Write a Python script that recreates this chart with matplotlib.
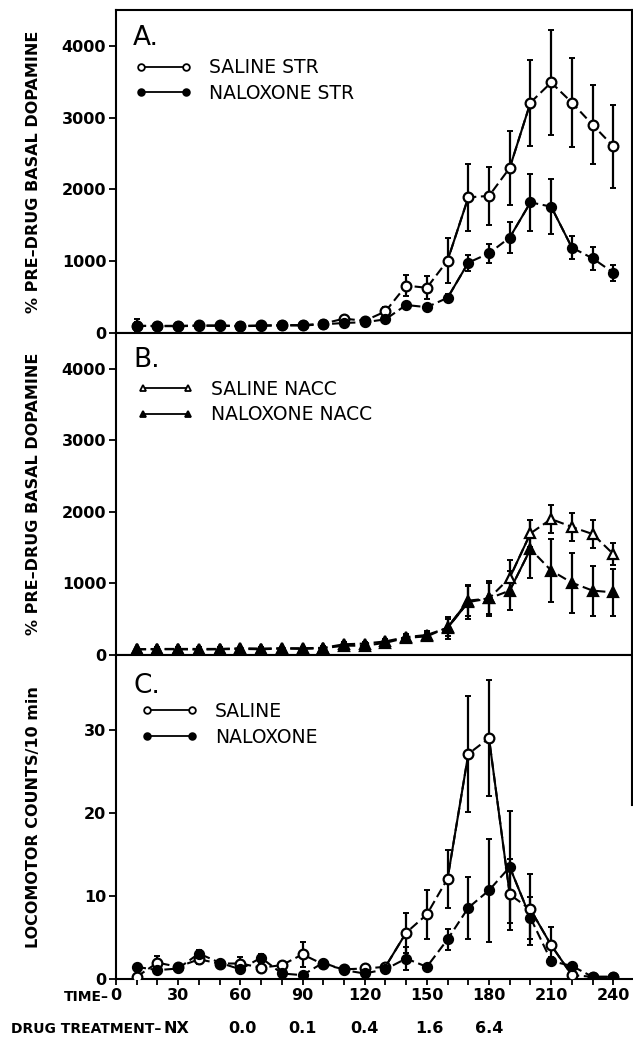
import numpy as np
import matplotlib
matplotlib.use("Agg")
import matplotlib.pyplot as plt
from matplotlib.lines import Line2D

plt.rcParams['font.family'] = ['DejaVu Sans']

# time after start, min
t = [10, 20, 30, 40, 50, 60, 70, 80, 90, 100, 110, 120,
     130, 140, 150, 160, 170, 180, 190, 200, 210, 220, 230, 240]

# A. striatum dopamine (% pre-drug basal)
sal_str = [100, 100, 100, 105, 105, 100, 105, 110, 110, 130, 200, 170,
           300, 660, 630, 1010, 1890, 1910, 2300, 3210, 3490, 3210, 2900, 2600]
sal_str_err = [90, 30, 30, 30, 30, 30, 30, 30, 30, 30, 40, 40,
               60, 150, 160, 310, 470, 400, 520, 600, 730, 620, 550, 580]
nal_str = [100, 95, 95, 100, 100, 95, 100, 105, 105, 120, 140, 150,
           190, 390, 360, 490, 980, 1110, 1330, 1820, 1760, 1190, 1040, 840]
nal_str_err = [60, 25, 25, 40, 25, 40, 25, 25, 25, 25, 25, 25,
               30, 40, 50, 50, 110, 130, 220, 400, 380, 160, 160, 110]

# B. nucleus accumbens dopamine
sal_nacc = [80, 85, 85, 85, 85, 95, 90, 95, 95, 100, 150, 160,
            190, 250, 280, 380, 740, 790, 1080, 1700, 1900, 1790, 1690, 1410]
sal_nacc_err = [20, 20, 20, 20, 20, 20, 20, 20, 20, 20, 25, 25,
                30, 40, 50, 150, 230, 220, 250, 190, 190, 200, 190, 150]
nal_nacc = [80, 80, 80, 75, 80, 85, 80, 90, 85, 95, 130, 130,
            170, 240, 260, 385, 760, 790, 900, 1480, 1180, 1010, 900, 875]
nal_nacc_err = [20, 20, 20, 20, 20, 20, 20, 20, 20, 20, 25, 25,
                30, 40, 50, 120, 220, 240, 270, 400, 445, 420, 350, 330]

# C. locomotor counts / 10 min
sal_loc = [0.3, 2.0, 1.5, 2.4, 1.9, 1.9, 1.4, 1.7, 3.0, 1.8, 1.2, 1.3,
           1.5, 5.6, 7.8, 12.1, 27.1, 29.0, 10.2, 8.4, 4.1, 0.5, 0.3, 0.3]
sal_loc_err = [0.3, 0.8, 0.3, 0.5, 0.3, 0.8, 0.4, 0.3, 1.5, 0.3, 0.3, 0.3,
               0.3, 2.4, 2.9, 3.5, 7.0, 7.0, 4.3, 4.3, 2.2, 0.3, 0.2, 0.2]
nal_loc = [1.5, 1.1, 1.3, 3.1, 2.0, 1.2, 2.6, 0.7, 0.5, 2.0, 1.1, 0.7,
           1.2, 2.5, 1.5, 4.8, 8.6, 10.7, 13.5, 7.4, 2.2, 1.6, 0.3, 0.3]
nal_loc_err = [0.3, 0.3, 0.3, 0.4, 0.3, 0.3, 0.4, 0.3, 0.3, 0.3, 0.3, 0.3,
               0.3, 1.4, 0.3, 1.3, 3.7, 6.2, 6.7, 2.5, 0.5, 0.4, 0.2, 0.2]

# segments drawn solid (start index into t), the rest dashed
solid_sal_str = [15, 18]
solid_nal_str = [15, 18, 20]
solid_sal_nacc = [15, 18]
solid_nal_nacc = [15, 18]
solid_sal_loc = [12, 15, 17, 19, 20]
solid_nal_loc = [18]

time_ticks = [0, 30, 60, 90, 120, 150, 180, 210, 240]
drug_pos = [29, 61, 90, 120, 151, 180]
drug_lab = ["NX", "0.0", "0.1", "0.4", "1.6", "6.4"]

LW = 1.5
DASH = (0, (4.5, 2.2))


def series(ax, y, err, solid, marker, filled, ms):
    x = np.array(t, dtype=float)
    y = np.array(y, dtype=float)
    ax.errorbar(x, y, yerr=err, fmt='none', ecolor='k', elinewidth=1.6,
                capsize=2.5, capthick=1.4, zorder=2)
    ax.plot(x, y, color='k', lw=LW, ls=DASH, zorder=3)
    for i in solid:
        ax.plot(x[i:i + 2], y[i:i + 2], color='k', lw=LW, ls='-', zorder=3)
    ax.plot(x, y, ls='none', marker=marker, ms=ms, mec='k', mew=1.6,
            mfc='k' if filled else 'white', zorder=4)


def style(ax, ymax, yticks):
    ax.set_xlim(0, 249)
    ax.set_ylim(0, ymax)
    ax.set_yticks(yticks)
    for s in ax.spines.values():
        s.set_linewidth(1.5)
    ax.tick_params(axis='y', direction='out', length=5, width=1.3,
                   labelsize=11.5, pad=2)
    ax.tick_params(axis='x', which='both', direction='out', length=4,
                   width=1.3, labelsize=11.5, pad=2)
    for lab in ax.get_yticklabels():
        lab.set_fontweight('bold')


def legend(ax, labels, entries, x0, y0):
    handles = []
    for marker, filled in entries:
        handles.append(Line2D([], [], color='k', lw=1.3, marker=marker,
                              ms=4.8, mew=1.3, mec='k',
                              mfc='k' if filled else 'white'))
    ax.legend(handles, labels, loc='upper left', bbox_to_anchor=(x0, y0),
              frameon=False, numpoints=2, handlelength=3.0,
              handletextpad=0.9, fontsize=13.5, labelspacing=0.35,
              borderaxespad=0, borderpad=0)


fig = plt.figure(figsize=(6.33, 10.4), dpi=100)
L, W = 116 / 633, 516 / 633
axA = fig.add_axes([L, 1 - 333 / 1040, W, 323 / 1040])
axB = fig.add_axes([L, 1 - 655 / 1040, W, 322 / 1040])
axC = fig.add_axes([L, 1 - 979.3 / 1040, W, 324.3 / 1040])

ylab_kw = dict(fontsize=11.5, fontweight='bold')

# panel A
series(axA, sal_str, sal_str_err, solid_sal_str, 'o', False, 7)
series(axA, nal_str, nal_str_err, solid_nal_str, 'o', True, 6.5)
style(axA, 4500, [0, 1000, 2000, 3000, 4000])
axA.set_xticks([])
axA.set_xticks(t, minor=True)
axA.set_ylabel("% PRE\u2013DRUG BASAL DOPAMINE", **ylab_kw)
legend(axA, ["SALINE STR", "NALOXONE STR"],
       [('o', False), ('o', True)], 0.038, 0.85)

# panel B
series(axB, sal_nacc, sal_nacc_err, solid_sal_nacc, '^', False, 7)
series(axB, nal_nacc, nal_nacc_err, solid_nal_nacc, '^', True, 7)
style(axB, 4500, [0, 1000, 2000, 3000, 4000])
axB.set_xticks([])
axB.set_xticks(t, minor=True)
axB.set_ylabel("% PRE\u2013DRUG BASAL DOPAMINE", **ylab_kw)
legend(axB, ["SALINE NACC", "NALOXONE NACC"],
       [('^', False), ('^', True)], 0.042, 0.855)

# panel C
series(axC, sal_loc, sal_loc_err, solid_sal_loc, 'o', False, 7)
series(axC, nal_loc, nal_loc_err, solid_nal_loc, 'o', True, 6.5)
style(axC, 39, [0, 10, 20, 30])
axC.set_xticks(time_ticks)
axC.set_xticklabels([str(v) for v in time_ticks], fontweight='bold')
axC.set_xticks(t, minor=True)
axC.set_ylabel("LOCOMOTOR COUNTS/10 min", **ylab_kw)
axC.spines['right'].set_bounds(21, 39)
legend(axC, ["SALINE", "NALOXONE"],
       [('o', False), ('o', True)], 0.05, 0.855)

for ax in (axA, axB, axC):
    ax.yaxis.set_label_coords(-0.145, 0.5)

for ax, letter, ypos in ((axA, "A.", 0.955), (axB, "B.", 0.955), (axC, "C.", 0.945)):
    ax.text(0.033, ypos, letter, transform=ax.transAxes, fontsize=19,
            va='top', ha='left')

# TIME label before the 0 tick and drug doses row
trans = axC.get_xaxis_transform()
axC.text(-3.5, -0.055, "TIME\u2013", transform=trans,
         fontsize=10, fontweight='bold', ha='right', va='center')
axC.text(22, -0.152, "DRUG TREATMENT\u2013", transform=trans,
         fontsize=10, fontweight='bold', ha='right', va='center')
for xp, lab in zip(drug_pos, drug_lab):
    axC.text(xp, -0.152, lab, transform=trans,
             fontsize=11.5, fontweight='bold', ha='center', va='center')

fig.savefig("out.png", dpi=100)
